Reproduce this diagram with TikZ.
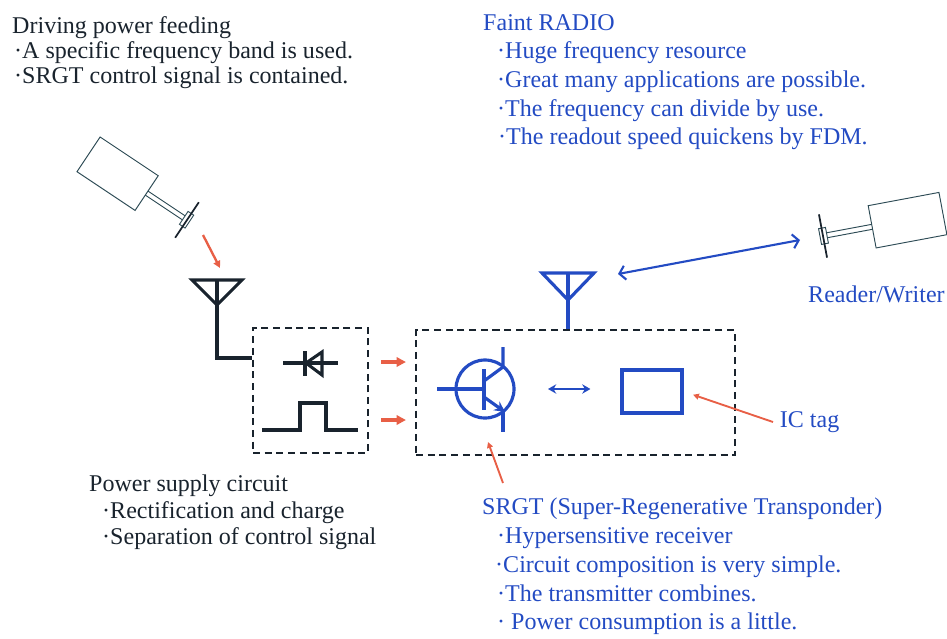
\documentclass[tikz,border=0pt]{standalone}
\usepackage{fontspec}
\setmainfont{Liberation Serif}
\usetikzlibrary{positioning,arrows.meta}

\definecolor{inkblue}{RGB}{35,75,195}
\definecolor{inkdark}{RGB}{25,35,45}
\definecolor{feedred}{RGB}{232,95,70}
\definecolor{probegray}{RGB}{45,75,85}

\tikzset{
  probe/.pic={
    \draw[probegray,line width=0.8pt] (-3,-8) rectangle (4,8);
    \draw[inkdark,line width=1.5pt] (0,-22) -- (0,22);
    \draw[probegray,line width=0.8pt] (4,-2.5) -- (50,-2.5) (4,2.5) -- (50,2.5);
    \draw[probegray,line width=0.8pt] (50,-21.5) rectangle (122,21.5);
  }
}

\begin{document}
\begin{tikzpicture}[x=0.03cm,y=-0.03cm,
    every node/.style={inner sep=0pt},
    note/.style={align=left,anchor=north west,text=inkdark,
      font={\fontsize{20.5}{21.5}\selectfont}},
    bluenote/.style={note,text=inkblue},
    dashbox/.style={draw=inkdark,line width=1.8pt,dash pattern=on 6pt off 4pt},
    circuit/.style={inkdark,line width=2.6pt},
    bluecircuit/.style={inkblue,line width=2.7pt},
    feedarrow/.style={feedred,line width=2.8pt,-{Triangle[length=8pt,width=8pt]}},
    pointer/.style={feedred,line width=1.6pt,-{Triangle[length=5pt,width=5pt]}},
    linkarrow/.style={inkblue,line width=1.8pt,{Straight Barb[length=5pt,width=12pt]}-{Straight Barb[length=5pt,width=12pt]}},
    pairarrow/.style={inkblue,line width=1.8pt,{Stealth[length=7pt,width=8pt]}-{Stealth[length=7pt,width=8pt]}}
  ]
  \useasboundingbox (0,0) rectangle (947,638);

  % notes
  \node[note] (feed) at (12,16) {Driving power feeding\\
    \hspace*{0.06cm}·A specific frequency band is used.\\
    \hspace*{0.06cm}·SRGT control signal is contained.};
  \node[bluenote,font={\fontsize{20.5}{24.5}\selectfont}] (radio) at (483,14) {Faint RADIO\\
    \hspace*{0.42cm}·Huge frequency resource\\
    \hspace*{0.42cm}·Great many applications are possible.\\
    \hspace*{0.42cm}·The frequency can divide by use.\\
    \hspace*{0.45cm}·The readout speed quickens by FDM.};
  \node[note,font={\fontsize{20.5}{22.5}\selectfont}] (supply) at (89,475) {Power supply circuit\\
    \hspace*{0.39cm}·Rectification and charge\\
    \hspace*{0.39cm}·Separation of control signal};
  \node[bluenote,font={\fontsize{20.5}{24.5}\selectfont}] (srgtnote) at (482,498) {SRGT (Super-Regenerative Transponder)\\
    \hspace*{0.45cm}·Hypersensitive receiver\\
    \hspace*{0.39cm}·Circuit composition is very simple.\\
    \hspace*{0.45cm}·The transmitter combines.\\
    \hspace*{0.45cm}·\ Power consumption is a little.};
  \node[bluenote,anchor=base west] (rwnote) at (808,302) {Reader/Writer};
  \node[bluenote,anchor=west,inner xsep=0.2cm] (tag) at (773,422) {IC tag};

  % boxes
  \node[dashbox,minimum width=3.45cm,minimum height=3.75cm] (psu) at (310.5,390.5) {};
  \node[dashbox,minimum width=9.57cm,minimum height=3.75cm] (srgt) at (575.5,392.5) {};

  % feeding side
  \pic[rotate=146.3,scale=0.97] at (187,220) {probe};
  \coordinate (txport) at (203,235);
  \coordinate (ant1) at (217,280);
  \coordinate (ant1in) at (220,268);
  \draw[feedarrow,line width=2pt,-{Triangle[length=6pt,width=6pt]}] (txport) -- (ant1in);
  \draw[circuit] (192,280) -- (242,280) -- (217,305) -- cycle;
  \draw[circuit] (ant1) |- ([yshift=0.975cm]psu.west);

  % rectifier and pulse
  \coordinate (diode) at (310,362);
  \coordinate (pulse) at (310,420);
  \draw[circuit] (283,363) -- (338,363);
  \draw[circuit] (305,351) -- (305,376);
  \draw[circuit,line join=miter] (306,363) -- (322,352) -- (322,375) -- cycle;
  \draw[circuit] (262,430) -- (300,430) -- (300,403) -- (326,403) -- (326,430) -- (358,430);

  \draw[feedarrow,shorten <=0.36cm,shorten >=0.27cm] (psu.east |- diode) -- (srgt.west |- diode);
  \draw[feedarrow,shorten <=0.36cm,shorten >=0.27cm] (psu.east |- pulse) -- (srgt.west |- pulse);

  % transponder
  \coordinate (ant2) at (568,273);
  \draw[bluecircuit] (542,273) -- (594,273) -- (568,300) -- cycle;
  \draw[bluecircuit] (ant2) -- (ant2 |- srgt.north);

  \coordinate (tr) at (485,389);
  \draw[bluecircuit] (tr) circle[radius=29];
  \draw[bluecircuit] (437,389) -- (484,389);
  \draw[bluecircuit] (484,369) -- (484,410);
  \draw[bluecircuit] (484,381) -- (503,367) -- (503,347);
  \draw[bluecircuit,-{Stealth[length=9pt,width=9pt]}] (484,397) -- (505,412);
  \draw[bluecircuit] (503,409) -- (503,432);

  \node[draw=inkblue,line width=2.7pt,minimum width=1.8cm,minimum height=1.29cm] (ic) at (652,391.5) {};
  \draw[pairarrow,shorten <=1.89cm,shorten >=0.9cm] (tr) -- (tr -| ic.west);

  % reader/writer
  \pic[rotate=10.6] at (823,236) {probe};
  \coordinate (radioport) at (618,274);
  \coordinate (rwport) at (800,240);
  \draw[linkarrow] (radioport) -- (rwport);

  % pointers
  \coordinate (srgtptr) at (503,483);
  \coordinate (trpin) at (488,442);
  \draw[pointer] (srgtptr) -- (trpin);
  \draw[pointer,shorten >=0.3cm] (tag.west) -- (ic.east);
\end{tikzpicture}
\end{document}
